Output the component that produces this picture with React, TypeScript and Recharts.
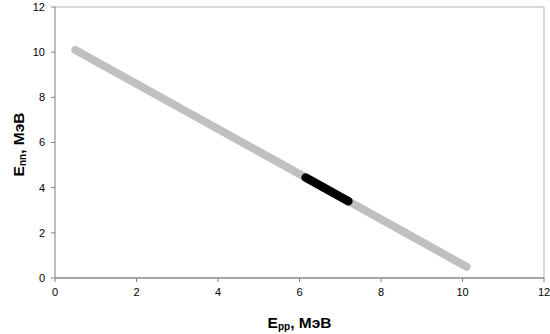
import React from "react";
import { ScatterChart, Scatter, XAxis, YAxis, ReferenceLine } from "recharts";

const grayX = [0.5, 10.1];
const grayY = [10.1, 0.5];
const blackX = [6.15, 7.2];
const blackY = [4.45, 3.4];
const ticks = [0, 2, 4, 6, 8, 10, 12];

const grayData = grayX.map((x, i) => ({ x, y: grayY[i] }));
const blackData = blackX.map((x, i) => ({ x, y: blackY[i] }));

const FONT = "'Liberation Sans', Arial, sans-serif";

const XTitle = (props: any) => {
  const vb = props.viewBox;
  const cx = vb.x + vb.width / 2;
  return (
    <text x={cx} y={vb.y + 50} textAnchor="middle" fontFamily={FONT} fontSize={15.5} fontWeight="bold" fill="#000">
      E<tspan fontSize={10} dy={2}>pp</tspan><tspan dy={-2}>, МэВ</tspan>
    </text>
  );
};

const YTitle = (props: any) => {
  const vb = props.viewBox;
  const cy = vb.y + vb.height / 2 + 2;
  const x = 24;
  return (
    <text x={x} y={cy} transform={`rotate(-90 ${x} ${cy})`} textAnchor="middle" fontFamily={FONT} fontSize={15.5} fontWeight="bold" fill="#000">
      E<tspan fontSize={10} dy={2}>nn</tspan><tspan dy={-2}>, МэВ</tspan>
    </text>
  );
};

const NoShape = () => null;

export default function App() {
  return (
    <div style={{ position: "absolute", left: 0, top: 0, width: 550, height: 334, background: "#fff" }}>
      <ScatterChart width={550} height={334} margin={{ top: 7, right: 6, left: 10, bottom: 26 }}>
        <XAxis
          type="number"
          dataKey="x"
          domain={[0, 12]}
          ticks={ticks}
          interval={0}
          height={30}
          stroke="#a6a6a6"
          strokeWidth={2}
          tickSize={4}
          tickMargin={6}
          tick={{ fill: "#000", fontSize: 11, fontFamily: FONT }}
          tickLine={{ stroke: "#808080", strokeWidth: 1 }}
          label={<XTitle />}
        />
        <YAxis
          type="number"
          dataKey="y"
          domain={[0, 12]}
          ticks={ticks}
          interval={0}
          width={45}
          stroke="#808080"
          tickSize={4}
          tickMargin={6}
          tick={{ fill: "#000", fontSize: 11, fontFamily: FONT }}
          label={<YTitle />}
        />
        <ReferenceLine y={12} stroke="#b0b0b0" strokeWidth={1} />
        <ReferenceLine x={12} stroke="#b0b0b0" strokeWidth={1} />
        <Scatter
          data={grayData}
          line={{ stroke: "#c0c0c0", strokeWidth: 8, strokeLinecap: "round" }}
          shape={NoShape}
          fill="#c0c0c0"
          isAnimationActive={false}
        />
        <Scatter
          data={blackData}
          line={{ stroke: "#000", strokeWidth: 8.5, strokeLinecap: "round" }}
          shape={NoShape}
          fill="#000"
          isAnimationActive={false}
        />
      </ScatterChart>
    </div>
  );
}
